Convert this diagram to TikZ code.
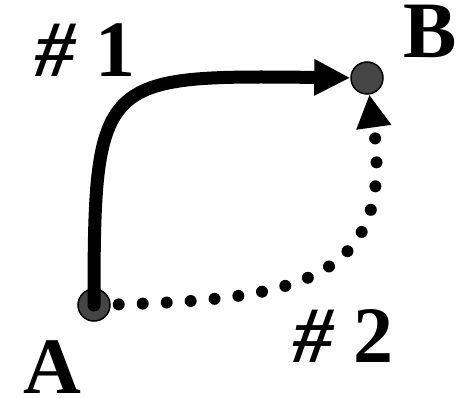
\documentclass[tikz,border=0pt]{standalone}
\usepackage{fontspec}
\setmainfont{Liberation Serif}
\usetikzlibrary{arrows.meta}
\begin{document}
\begin{tikzpicture}[x=1pt,y=1pt,
  dot/.style={circle, minimum size=32pt, inner sep=0pt, fill=black!73, draw=black, line width=1.5pt},
  lbl/.style={inner sep=0pt, anchor=base, font=\fontsize{80}{80}\selectfont\bfseries},
  solidpath/.style={line width=13pt, line cap=round, -{Triangle[length=36pt,width=34pt]}},
  dotpath/.style={line width=12pt, line cap=round, dash pattern=on 0pt off 24pt, dash phase=16pt, -{Triangle[length=33pt,width=33pt]}}]
\useasboundingbox (0,0) rectangle (457,-398);
\node[dot] (A) at (94,-305) {};
\node[dot] (B) at (367,-78) {};
\draw[solidpath] (A.center) .. controls +(0,230) and +(-267,3) .. (B);
\draw[dotpath] (A) .. controls (300,-300) and (395,-280) .. (B);
\node[lbl] (la) at (52,-393) {A};
\node[lbl] (lb) at (430,-58) {B};
\node[lbl] (l1) at (85,-77) {{\itshape\#} 1};
\node[lbl] (l2) at (343,-362) {{\itshape\#} 2};
\end{tikzpicture}
\end{document}
